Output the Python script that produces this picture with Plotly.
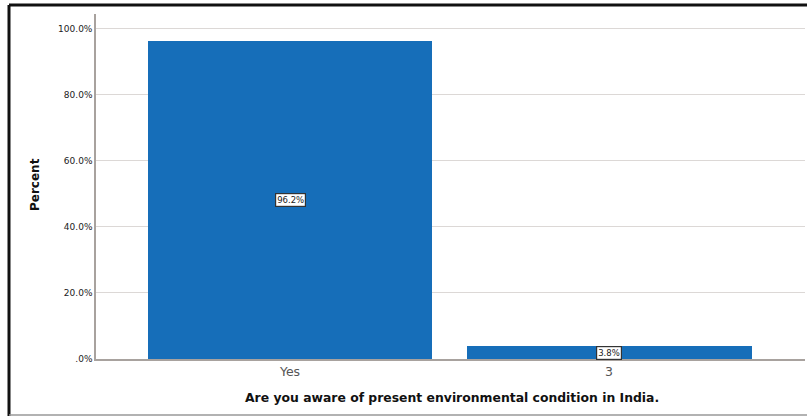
import plotly.graph_objects as go

# Survey response shares
categories = ["Yes", "3"]
percent = [96.2, 3.8]
y_tick_vals = [0, 20, 40, 60, 80, 100]
y_tick_text = [".0%", "20.0%", "40.0%", "60.0%", "80.0%", "100.0%"]

BAR_BLUE = "#166eb9"
FONT = "DejaVu Sans, Verdana, sans-serif"

fig = go.Figure(
    go.Bar(
        x=list(range(len(categories))),
        y=percent,
        width=0.893,
        marker=dict(color=BAR_BLUE, line=dict(width=0)),
        hoverinfo="skip",
    )
)

# Value labels in small boxed tags at bar mid-height
for i, v in enumerate(percent):
    fig.add_annotation(
        x=i, y=v / 2, text=f"{v:.1f}%", showarrow=False,
        font=dict(family=FONT, size=8.5, color="#222"),
        bgcolor="white", bordercolor="#333", borderwidth=1.2, borderpad=1,
    )

# Axis titles
fig.add_annotation(
    xref="paper", yref="paper", x=(35 - 96) / 709, y=(359 - 184) / 345,
    xanchor="center", yanchor="middle",
    text="<b>Percent</b>", textangle=-90, showarrow=False,
    font=dict(family=FONT, size=12, color="#111"),
)
fig.add_annotation(
    xref="paper", yref="paper", x=(452 - 96) / 709, y=(359 - 397) / 345,
    xanchor="center", yanchor="middle",
    text="<b>Are you aware of present environmental condition in India.</b>",
    showarrow=False, font=dict(family=FONT, size=12.4, color="#111"),
)

# Outer frame: heavy top/left edges, light bottom edge
fig.add_shape(type="line", xref="paper", yref="paper",
              x0=(9 - 96) / 709, x1=(807 - 96) / 709,
              y0=(359 - 5) / 345, y1=(359 - 5) / 345,
              line=dict(color="#111", width=3))
fig.add_shape(type="line", xref="paper", yref="paper",
              x0=(9 - 96) / 709, x1=(9 - 96) / 709,
              y0=(359 - 5) / 345, y1=(359 - 416) / 345,
              line=dict(color="#111", width=3))
fig.add_shape(type="line", xref="paper", yref="paper",
              x0=(9 - 96) / 709, x1=(807 - 96) / 709,
              y0=(359 - 415) / 345, y1=(359 - 415) / 345,
              line=dict(color="#999", width=1.5))

fig.update_layout(
    width=807, height=417,
    margin=dict(l=96, r=2, t=14, b=58),
    paper_bgcolor="white", plot_bgcolor="white",
    showlegend=False, bargap=0,
    font=dict(family=FONT, color="#333"),
    xaxis=dict(
        range=[-0.608, 1.614],
        tickmode="array", tickvals=list(range(len(categories))), ticktext=categories,
        tickfont=dict(family=FONT, size=12.5, color="#555"),
        showgrid=False, zeroline=False,
        showline=True, linecolor="#a8a29e", linewidth=1.5,
        ticks="", fixedrange=True,
    ),
    yaxis=dict(
        range=[0, 104.5],
        tickmode="array", tickvals=y_tick_vals, ticktext=y_tick_text,
        tickfont=dict(family=FONT, size=9, color="#222"),
        showgrid=True, gridcolor="#dcd8d6", gridwidth=1,
        zeroline=False,
        showline=True, linecolor="#a8a29e", linewidth=1.5,
        ticks="", fixedrange=True,
    ),
)

fig.write_html("out.html")
